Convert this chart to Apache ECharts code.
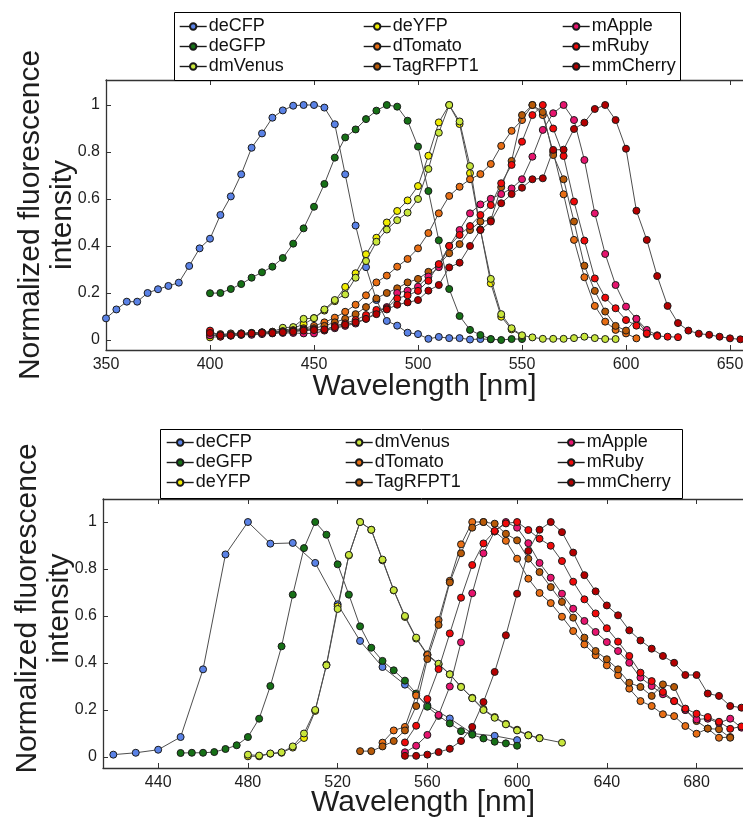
<!DOCTYPE html>
<html>
<head>
<meta charset="utf-8">
<title>Fluorescent protein spectra</title>
<script src="https://cdn.jsdelivr.net/npm/echarts@6/dist/echarts.min.js"></script>
<style>
  html, body { margin: 0; padding: 0; background: #ffffff; }
  #chart { width: 743px; height: 819px; }
</style>
</head>
<body>
<div id="chart"></div>
<script>
// Tick positions
const exWavelengthTicks = [350, 400, 450, 500, 550, 600, 650];
const emWavelengthTicks = [440, 480, 520, 560, 600, 640, 680];
const intensityTicks = [0, 0.2, 0.4, 0.6, 0.8, 1];

// Protein names and marker colours
const proteinNames = ['deCFP', 'deGFP', 'deYFP', 'dmVenus', 'dTomato', 'TagRFPT1', 'mApple', 'mRuby', 'mmCherry'];
const proteinColors = ['#5a82e6', '#167016', '#f0ec00', '#c8e63c', '#e86e14', '#b85a08', '#e6146e', '#f00a0a', '#b40000'];

// Excitation spectra: [wavelength nm, normalized intensity]
const exDeCFP = [[350,0.092],[355,0.13],[360,0.163],[365,0.163],[370,0.20],[375,0.216],[380,0.23],[385,0.244],[390,0.315],[395,0.39],[400,0.431],[405,0.532],[410,0.611],[415,0.705],[420,0.818],[425,0.879],[430,0.946],[435,0.977],[440,0.997],[445,1.0],[450,1.0],[455,0.989],[460,0.918],[465,0.705],[470,0.487],[475,0.31],[480,0.17],[485,0.081],[490,0.061],[495,0.031],[500,0.025],[505,0.005],[510,0.013],[515,0.008],[520,0.008],[525,0.002],[530,0.004],[535,0.003]];
const exDeGFP = [[400,0.199],[405,0.20],[410,0.217],[415,0.238],[420,0.265],[425,0.288],[430,0.312],[435,0.349],[440,0.41],[445,0.475],[450,0.567],[455,0.664],[460,0.776],[465,0.862],[470,0.896],[475,0.94],[480,0.976],[485,1.0],[490,0.993],[495,0.933],[500,0.823],[505,0.634],[510,0.424],[515,0.217],[520,0.102],[525,0.043],[530,0.021],[535,0.004],[540,0.0],[545,0.004],[550,0.004]];
const exDeYFP = [[400,0.011],[405,0.015],[410,0.02],[415,0.025],[420,0.028],[425,0.03],[430,0.033],[435,0.04],[440,0.05],[445,0.067],[450,0.093],[455,0.125],[460,0.165],[465,0.226],[470,0.284],[475,0.365],[480,0.435],[485,0.50],[490,0.549],[495,0.594],[500,0.655],[505,0.784],[510,0.926],[515,1.0],[520,0.919],[525,0.71],[530,0.47],[535,0.241],[540,0.099],[545,0.045],[550,0.017]];
const exDmVenus = [[400,0.02],[405,0.02],[410,0.028],[415,0.028],[420,0.03],[425,0.032],[430,0.035],[435,0.052],[440,0.055],[445,0.09],[450,0.093],[455,0.13],[460,0.17],[465,0.194],[470,0.265],[475,0.336],[480,0.418],[485,0.47],[490,0.51],[495,0.542],[500,0.60],[505,0.728],[510,0.882],[515,1.0],[520,0.93],[525,0.74],[530,0.47],[535,0.26],[540,0.11],[545,0.05],[550,0.02],[555,0.011],[560,0.005],[565,0.005],[570,0.005],[575,0.008],[580,0.014],[585,0.008],[590,0.004],[595,0.004]];
const exDTomato = [[400,0.03],[405,0.025],[410,0.025],[415,0.028],[420,0.03],[425,0.033],[430,0.035],[435,0.038],[440,0.042],[445,0.05],[450,0.06],[455,0.075],[460,0.095],[465,0.12],[470,0.15],[475,0.19],[480,0.245],[485,0.274],[490,0.312],[495,0.345],[500,0.39],[505,0.455],[510,0.539],[515,0.613],[520,0.652],[525,0.684],[530,0.706],[535,0.749],[540,0.826],[545,0.89],[550,0.936],[555,1.0],[560,0.957],[565,0.80],[570,0.62],[575,0.426],[580,0.267],[585,0.145],[590,0.078],[595,0.043],[600,0.028],[605,0.007]];
const exTagRFPT1 = [[400,0.035],[405,0.02],[410,0.02],[415,0.022],[420,0.025],[425,0.028],[430,0.03],[435,0.035],[440,0.04],[445,0.045],[450,0.05],[455,0.06],[460,0.075],[465,0.09],[470,0.11],[475,0.14],[480,0.177],[485,0.20],[490,0.22],[495,0.245],[500,0.26],[505,0.29],[510,0.32],[515,0.369],[520,0.408],[525,0.468],[530,0.504],[535,0.51],[540,0.65],[545,0.762],[550,0.957],[555,1.0],[560,0.97],[565,0.787],[570,0.684],[575,0.504],[580,0.316],[585,0.209],[590,0.121],[595,0.06],[600,0.04],[605,0.09],[610,0.025]];
const exMApple = [[400,0.02],[405,0.02],[410,0.02],[415,0.022],[420,0.022],[425,0.025],[430,0.028],[435,0.03],[440,0.03],[445,0.028],[450,0.028],[455,0.04],[460,0.05],[465,0.06],[470,0.07],[475,0.09],[480,0.115],[485,0.14],[490,0.20],[495,0.21],[500,0.227],[505,0.27],[510,0.31],[515,0.40],[520,0.468],[525,0.539],[530,0.577],[535,0.601],[540,0.621],[545,0.645],[550,0.684],[555,0.78],[560,0.894],[565,0.965],[570,1.0],[575,0.936],[580,0.766],[585,0.539],[590,0.366],[595,0.234],[600,0.142],[605,0.09],[610,0.043],[615,0.02]];
const exMRuby = [[400,0.04],[405,0.014],[410,0.018],[415,0.025],[420,0.028],[425,0.032],[430,0.032],[435,0.035],[440,0.038],[445,0.043],[450,0.045],[455,0.043],[460,0.06],[465,0.071],[470,0.085],[475,0.106],[480,0.128],[485,0.135],[490,0.177],[495,0.19],[500,0.209],[505,0.252],[510,0.323],[515,0.40],[520,0.447],[525,0.485],[530,0.532],[535,0.574],[540,0.667],[545,0.745],[550,0.844],[555,0.957],[560,1.0],[565,0.90],[570,0.783],[575,0.589],[580,0.423],[585,0.262],[590,0.18],[595,0.135],[600,0.085],[605,0.061],[610,0.028],[615,0.017],[620,0.014],[625,0.012]];
const exMmCherry = [[400,0.03],[405,0.02],[410,0.02],[415,0.025],[420,0.028],[425,0.03],[430,0.03],[435,0.033],[440,0.035],[445,0.04],[450,0.042],[455,0.045],[460,0.055],[465,0.065],[470,0.075],[475,0.09],[480,0.11],[485,0.13],[490,0.15],[495,0.16],[500,0.17],[505,0.21],[510,0.234],[515,0.309],[520,0.329],[525,0.40],[530,0.468],[535,0.504],[540,0.582],[545,0.621],[550,0.648],[555,0.684],[560,0.688],[565,0.809],[570,0.81],[575,0.898],[580,0.925],[585,0.983],[590,1.0],[595,0.936],[600,0.814],[605,0.55],[610,0.426],[615,0.272],[620,0.145],[625,0.072],[630,0.04],[635,0.027],[640,0.022],[645,0.014],[650,0.007],[655,0.003]];

// Emission spectra: [wavelength nm, normalized intensity]
const emDeCFP = [[420,0.01],[430,0.018],[440,0.031],[450,0.085],[460,0.373],[470,0.862],[480,1.0],[490,0.908],[500,0.911],[510,0.826],[520,0.65],[530,0.494],[540,0.383],[550,0.308],[560,0.22],[570,0.164],[580,0.10],[590,0.09],[600,0.072]];
const emDeGFP = [[450,0.017],[455,0.018],[460,0.018],[465,0.021],[470,0.034],[475,0.05],[480,0.085],[485,0.163],[490,0.302],[495,0.471],[500,0.691],[505,0.889],[510,1.0],[515,0.946],[520,0.82],[525,0.691],[530,0.556],[535,0.465],[540,0.409],[545,0.369],[550,0.325],[555,0.27],[560,0.214],[565,0.175],[570,0.143],[575,0.11],[580,0.095],[585,0.079],[590,0.065],[595,0.058],[600,0.048]];
const emDeYFP = [[480,0.003],[485,0.003],[490,0.014],[495,0.018],[500,0.04],[505,0.081],[510,0.196],[515,0.393],[520,0.641],[525,0.858],[530,1.0],[535,0.967],[540,0.837],[545,0.709],[550,0.596],[555,0.504],[560,0.434],[565,0.394],[570,0.352],[575,0.299],[580,0.252],[585,0.204],[590,0.17],[595,0.141],[600,0.116],[605,0.093],[610,0.081]];
const emDmVenus = [[480,0.01],[485,0.006],[490,0.015],[495,0.02],[500,0.045],[505,0.10],[510,0.20],[515,0.39],[520,0.63],[525,0.86],[530,1.0],[535,0.967],[540,0.84],[545,0.71],[550,0.60],[555,0.508],[560,0.437],[565,0.397],[570,0.352],[575,0.298],[580,0.25],[585,0.20],[590,0.167],[595,0.139],[600,0.113],[605,0.092],[610,0.08],[620,0.061]];
const emDTomato = [[540,0.061],[545,0.113],[550,0.128],[555,0.262],[560,0.434],[565,0.583],[570,0.75],[575,0.905],[580,1.0],[585,1.0],[590,0.96],[595,0.92],[600,0.844],[605,0.759],[610,0.698],[615,0.655],[620,0.597],[625,0.536],[630,0.479],[635,0.433],[640,0.39],[645,0.348],[650,0.291],[655,0.238],[660,0.217],[665,0.182],[670,0.174],[675,0.132],[680,0.099],[685,0.121],[690,0.082],[695,0.085]];
const emTagRFPT1 = [[530,0.025],[535,0.025],[540,0.045],[545,0.068],[550,0.113],[555,0.217],[560,0.417],[565,0.562],[570,0.743],[575,0.867],[580,0.976],[585,1.0],[590,0.993],[595,0.95],[600,0.922],[605,0.844],[610,0.787],[615,0.723],[620,0.66],[625,0.593],[630,0.508],[635,0.451],[640,0.416],[645,0.373],[650,0.316],[655,0.298],[660,0.26],[665,0.309],[670,0.298],[675,0.20],[680,0.153],[685,0.121],[690,0.118],[695,0.082]];
const emMApple = [[550,0.02],[555,0.048],[560,0.094],[565,0.179],[570,0.30],[575,0.488],[580,0.697],[585,0.867],[590,0.96],[595,1.0],[600,0.976],[605,0.91],[610,0.826],[615,0.763],[620,0.695],[625,0.631],[630,0.579],[635,0.532],[640,0.489],[645,0.451],[650,0.401],[655,0.338],[660,0.302],[665,0.267],[670,0.238],[675,0.20],[680,0.16],[685,0.163],[690,0.145],[695,0.163],[700,0.125]];
const emMRuby = [[550,0.062],[555,0.133],[560,0.247],[565,0.374],[570,0.526],[575,0.678],[580,0.817],[585,0.909],[590,0.962],[595,0.994],[600,1.0],[605,0.966],[610,0.929],[615,0.899],[620,0.834],[625,0.746],[630,0.671],[635,0.611],[640,0.548],[645,0.491],[650,0.43],[655,0.359],[660,0.323],[665,0.277],[670,0.238],[675,0.206],[680,0.184],[685,0.17],[690,0.15],[695,0.12],[700,0.13]];
const emMmCherry = [[550,0.005],[555,0.005],[560,0.01],[565,0.021],[570,0.035],[575,0.068],[580,0.128],[585,0.234],[590,0.362],[595,0.518],[600,0.695],[605,0.877],[610,0.967],[615,1.0],[620,0.957],[625,0.87],[630,0.774],[635,0.705],[640,0.645],[645,0.603],[650,0.539],[655,0.496],[660,0.461],[665,0.43],[670,0.401],[675,0.349],[680,0.349],[685,0.27],[690,0.26],[695,0.217],[700,0.21]];

const excitationData = [exDeCFP, exDeGFP, exDeYFP, exDmVenus, exDTomato, exTagRFPT1, exMApple, exMRuby, exMmCherry];
const emissionData = [emDeCFP, emDeGFP, emDeYFP, emDmVenus, emDTomato, emTagRFPT1, emMApple, emMRuby, emMmCherry];

// Legend column layouts (column-major, three names per column)
const exLegendColumns = [['deCFP', 'deGFP', 'dmVenus'], ['deYFP', 'dTomato', 'TagRFPT1'], ['mApple', 'mRuby', 'mmCherry']];
const emLegendColumns = [['deCFP', 'deGFP', 'deYFP'], ['dmVenus', 'dTomato', 'TagRFPT1'], ['mApple', 'mRuby', 'mmCherry']];

const FONT = '"Liberation Sans", Arial, Helvetica, sans-serif';
const AXIS_COLOR = '#333333';
const TEXT_COLOR = '#1e1e1e';

function xAxesFor(gridIndex, min, max, ticks, nameGap) {
  const common = {
    type: 'value', gridIndex, min, max,
    splitLine: { show: false },
    axisLine: { show: true, onZero: false, lineStyle: { color: AXIS_COLOR, width: 1.3 } },
    axisTick: { show: true, inside: true, length: 5, customValues: ticks, lineStyle: { color: AXIS_COLOR, width: 1 } }
  };
  return [
    Object.assign({}, common, {
      position: 'bottom',
      axisLabel: { show: true, customValues: ticks, margin: 7, fontSize: 16, color: TEXT_COLOR, fontFamily: FONT },
      name: 'Wavelength [nm]', nameLocation: 'middle', nameGap, nameMoveOverlap: false,
      nameTextStyle: { fontSize: 30, lineHeight: 30, color: TEXT_COLOR, fontFamily: FONT }
    }),
    Object.assign({}, common, { position: 'top', axisLabel: { show: false } })
  ];
}

// namePadLeft shifts the rotated title along the axis (upwards on screen)
function yAxisFor(gridIndex, min, max, namePadLeft) {
  return {
    type: 'value', gridIndex, min, max, position: 'left',
    splitLine: { show: false },
    axisLine: { show: true, onZero: false, lineStyle: { color: AXIS_COLOR, width: 1.3 } },
    axisTick: { show: true, inside: true, length: 5, customValues: intensityTicks, lineStyle: { color: AXIS_COLOR, width: 1 } },
    axisLabel: {
      show: true, customValues: intensityTicks, margin: 6, fontSize: 16, color: TEXT_COLOR, fontFamily: FONT,
      formatter: v => String(Math.round(v * 10) / 10)
    },
    name: 'Normalized fluorescence\nintensity', nameLocation: 'middle', nameRotate: 90, nameGap: 27,
    nameMoveOverlap: false,
    nameTextStyle: { fontSize: 30, lineHeight: 32, color: TEXT_COLOR, fontFamily: FONT, align: 'center', padding: [0, 0, 0, namePadLeft] }
  };
}

function seriesFor(dataSets, xAxisIndex, yAxisIndex) {
  return dataSets.map((points, i) => ({
    name: proteinNames[i],
    type: 'line',
    xAxisIndex, yAxisIndex,
    data: points,
    symbol: 'circle',
    symbolSize: 7,
    showAllSymbol: true,
    lineStyle: { color: '#4e4e4e', width: 1 },
    itemStyle: { color: proteinColors[i], borderColor: '#1a1a1a', borderWidth: 1 },
    emphasis: { disabled: true },
    silent: true,
    z: 2 + i * 0.01
  }));
}

function legendsFor(columns, lefts, top) {
  return columns.map((names, c) => ({
    data: names,
    orient: 'vertical',
    left: lefts[c], top,
    padding: 0,
    itemGap: 1,
    itemWidth: 27, itemHeight: 8,
    selectedMode: false,
    lineStyle: { color: '#1a1a1a', width: 1.4 },
    textStyle: { fontSize: 18, lineHeight: 19, color: '#111111', fontFamily: FONT, padding: [0, 0, 0, -3] },
    z: 5
  }));
}

const chart = echarts.init(document.getElementById('chart'), null, { renderer: 'canvas' });

chart.setOption({
  backgroundColor: '#ffffff',
  animation: false,
  grid: [
    { left: 106, top: 80, right: 0, height: 270, outerBoundsMode: 'none', containLabel: false },
    { left: 103, top: 499, right: 0, height: 269, outerBoundsMode: 'none', containLabel: false }
  ],
  xAxis: [
    ...xAxesFor(0, 350, 656.25, exWavelengthTicks, 22),
    ...xAxesFor(1, 415.4, 700.7, emWavelengthTicks, 20)
  ],
  yAxis: [
    yAxisFor(0, -0.0426, 1.1064, 0),
    yAxisFor(1, -0.0468, 1.098, 50)
  ],
  legend: [
    ...legendsFor(exLegendColumns, [179, 363, 562], 17),
    ...legendsFor(emLegendColumns, [166, 345, 557], 433)
  ],
  graphic: [
    { type: 'rect', z: 4, shape: { x: 174.5, y: 12.5, width: 506, height: 68 }, style: { fill: '#ffffff', stroke: '#000000', lineWidth: 1 } },
    { type: 'rect', z: 4, shape: { x: 160.5, y: 429.5, width: 522, height: 69 }, style: { fill: '#ffffff', stroke: '#000000', lineWidth: 1 } }
  ],
  series: [
    ...seriesFor(excitationData, 0, 0),
    ...seriesFor(emissionData, 2, 1)
  ]
});
</script>
</body>
</html>
